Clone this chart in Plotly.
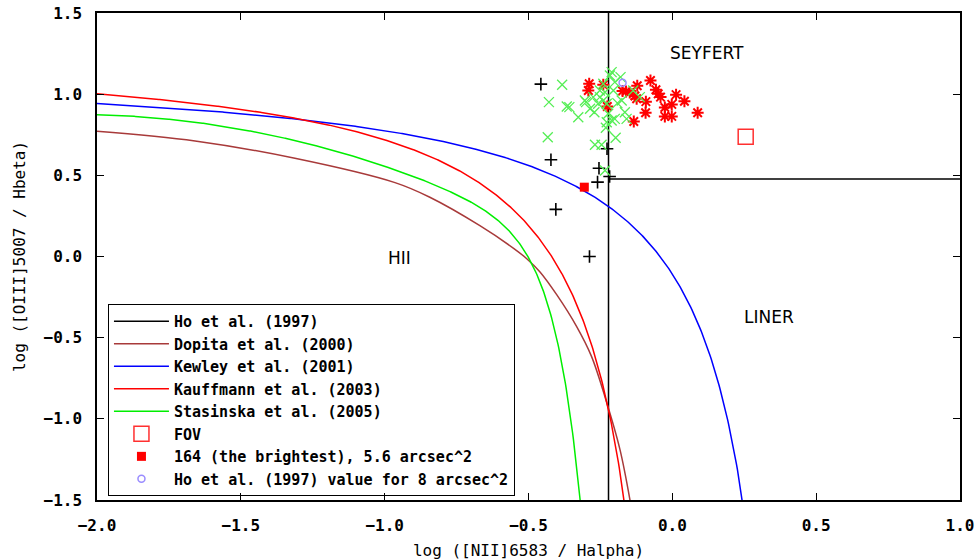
import numpy as np
import plotly.graph_objects as go

# ---------------- data ----------------
# Ho et al. (1997) boundaries: [NII]/Halpha = 0.6, [OIII]/Hbeta = 3
ho_nii = np.log10(0.6)
ho_oiii = np.log10(3.0)

# Dopita et al. (2000) boundary, traced points
dopita_x = [-2.0, -1.659, -1.312, -0.964, -0.843, -0.669, -0.553,
            -0.507, -0.460, -0.402, -0.333, -0.281, -0.229, -0.182, -0.147]
dopita_y = [0.772, 0.712, 0.605, 0.455, 0.365, 0.190, 0.052,
            -0.012, -0.095, -0.235, -0.430, -0.615, -0.895, -1.190, -1.503]

# Published demarcation curves (coefficients)
kewley_coef = (0.61, 0.47, 1.19)       # Kewley et al. (2001)
kauffmann_coef = (0.61, 0.05, 1.30)    # Kauffmann et al. (2003)
stasinska_coef = (-30.787, 1.1358, 0.27297, 5.7409, -31.093)  # Stasinska et al. (2005)

# Individual regions
black_x = [-0.457, -0.422, -0.405, -0.288, -0.260, -0.255, -0.227, -0.218]
black_y = [1.062, 0.596, 0.290, 0.000, 0.458, 0.544, 0.664, 0.493]

green_x = [-0.383, -0.429, -0.367, -0.358, -0.327, -0.433, -0.300, -0.271,
           -0.275, -0.252, -0.258, -0.240, -0.228, -0.252, -0.234, -0.217,
           -0.211, -0.200, -0.180, -0.191, -0.176, -0.165, -0.200, -0.211,
           -0.228, -0.231, -0.197, -0.246, -0.269, -0.234, -0.159, -0.113,
           -0.136, -0.304, -0.286, -0.240, -0.205, -0.223]
green_y = [1.058, 0.951, 0.924, 0.920, 0.858, 0.735, 0.951, 0.889,
           0.982, 0.982, 0.941, 0.961, 0.941, 1.023, 1.012, 1.115,
           1.136, 1.074, 1.105, 0.945, 0.961, 0.889, 0.848, 0.838,
           0.827, 0.793, 0.731, 0.688, 0.688, 0.530, 0.848, 0.982,
           1.023, 0.961, 0.910, 1.064, 1.023, 0.879]

red_x = [-0.289, -0.292, -0.240, -0.226, -0.173, -0.161, -0.148, -0.122,
         -0.130, -0.124, -0.092, -0.076, -0.057, -0.049, -0.041, -0.026,
         -0.002, 0.013, 0.042, -0.093, -0.026, -0.002, 0.088, -0.134]
red_y = [1.064, 1.023, 1.058, 0.924, 1.020, 1.017, 1.010, 1.052,
         0.989, 0.972, 0.954, 1.084, 1.027, 1.002, 0.982, 0.918,
         0.937, 0.997, 0.956, 0.886, 0.863, 0.863, 0.885, 0.832]

fov_x, fov_y = [0.255], [0.738]
bright_x, bright_y = [-0.306], [0.427]
ho8_x, ho8_y = [-0.173], [1.070]

region_labels = ["SEYFERT", "HII", "LINER"]
region_x = [0.120, -0.950, 0.336]
region_y = [1.251, -0.012, -0.370]

x_ticks = [-2.0, -1.5, -1.0, -0.5, 0.0, 0.5, 1.0]
y_ticks = [-1.5, -1.0, -0.5, 0.0, 0.5, 1.0, 1.5]

# ---------------- curves ----------------
def hyperbola(x, c):
    a, b, d = c
    return a / (x - b) + d

def stasinska(x, c):
    p0, p1, p2, k, off = c
    return (p0 + p1 * x + p2 * x ** 2) * np.tanh(k * x) + off

xk = np.linspace(-2.0, 0.26, 600)
yk = hyperbola(xk, kewley_coef)
xa = np.linspace(-2.0, -0.16, 600)
ya = hyperbola(xa, kauffmann_coef)
xs = np.linspace(-2.0, -0.31, 600)
ys = stasinska(xs, stasinska_coef)

MONO = "DejaVu Sans Mono"

fig = go.Figure()

fig.add_trace(go.Scatter(
    x=[ho_nii, ho_nii, None, ho_nii, 1.0],
    y=[-1.5, 1.5, None, ho_oiii, ho_oiii],
    mode="lines", line=dict(color="black", width=1.5),
    name="Ho et al. (1997)"))
fig.add_trace(go.Scatter(
    x=dopita_x, y=dopita_y, mode="lines",
    line=dict(color="#a83a3a", width=1.5, shape="spline", smoothing=1.0),
    name="Dopita et al. (2000)"))
fig.add_trace(go.Scatter(
    x=xk, y=yk, mode="lines", line=dict(color="#0000ff", width=1.5),
    name="Kewley et al. (2001)"))
fig.add_trace(go.Scatter(
    x=xa, y=ya, mode="lines", line=dict(color="#ff0000", width=1.5),
    name="Kauffmann et al. (2003)"))
fig.add_trace(go.Scatter(
    x=xs, y=ys, mode="lines", line=dict(color="#00ee00", width=1.5),
    name="Stasinska et al. (2005)"))

# individual spaxels / regions (not in key)
fig.add_trace(go.Scatter(
    x=black_x, y=black_y, mode="markers", showlegend=False,
    marker=dict(symbol="cross-thin-open", size=9, color="black",
                line=dict(color="black", width=1.6))))
fig.add_trace(go.Scatter(
    x=red_x, y=red_y, mode="markers", showlegend=False,
    marker=dict(symbol="asterisk-open", size=10, color="#ff0000",
                line=dict(color="#ff1a1a", width=2))))
fig.add_trace(go.Scatter(
    x=green_x, y=green_y, mode="markers", showlegend=False,
    marker=dict(symbol="x-thin-open", size=10, color="#55ee55",
                line=dict(color="#55ee55", width=1.3))))

fig.add_trace(go.Scatter(
    x=fov_x, y=fov_y, mode="markers", name="FOV",
    marker=dict(symbol="square-open", size=15, color="#ff3030",
                line=dict(color="#ff3030", width=1.5))))
fig.add_trace(go.Scatter(
    x=bright_x, y=bright_y, mode="markers",
    name="164 (the brightest), 5.6 arcsec^2",
    marker=dict(symbol="square", size=9, color="#ff0000")))
fig.add_trace(go.Scatter(
    x=ho8_x, y=ho8_y, mode="markers",
    name="Ho et al. (1997) value for 8 arcsec^2",
    marker=dict(symbol="circle-open", size=7, color="#9a8cff",
                line=dict(color="#9a8cff", width=1.5))))

for t, x, y in zip(region_labels, region_x, region_y):
    fig.add_annotation(x=x, y=y, text=t, showarrow=False,
                       font=dict(family="DejaVu Sans", size=17, color="black"))

axis_common = dict(
    showgrid=False, zeroline=False, showline=True, linecolor="black",
    linewidth=1.5, mirror="ticks", ticks="inside", ticklen=7,
    tickcolor="black", tickwidth=1.2, tickformat=".1f", automargin=False,
    tickfont=dict(family=MONO, size=16, color="black", weight="bold"),
)

fig.update_layout(
    width=976, height=560,
    margin=dict(l=97, r=16, t=13, b=60, autoexpand=False),
    paper_bgcolor="white", plot_bgcolor="white",
    showlegend=True,
    legend=dict(
        x=0.0127, y=0.008, xanchor="left", yanchor="bottom",
        bgcolor="rgba(0,0,0,0)", bordercolor="black", borderwidth=1,
        font=dict(family=MONO, size=15, color="black", weight="bold"),
        itemwidth=55, tracegroupgap=0,
    ),
    xaxis=dict(
        range=[-2.0, 1.0], tickvals=x_ticks, ticklabelstandoff=10,
        title=dict(text="log ([NII]6583 / Halpha)", standoff=14,
                   font=dict(family=MONO, size=16, color="black")),
        **axis_common),
    yaxis=dict(
        range=[-1.5, 1.5], tickvals=y_ticks, ticklabelstandoff=10,
        title=dict(text="log ([OIII]5007 / Hbeta)", standoff=14,
                   font=dict(family=MONO, size=16, color="black")),
        **axis_common),
)

fig.write_html("out.html")
